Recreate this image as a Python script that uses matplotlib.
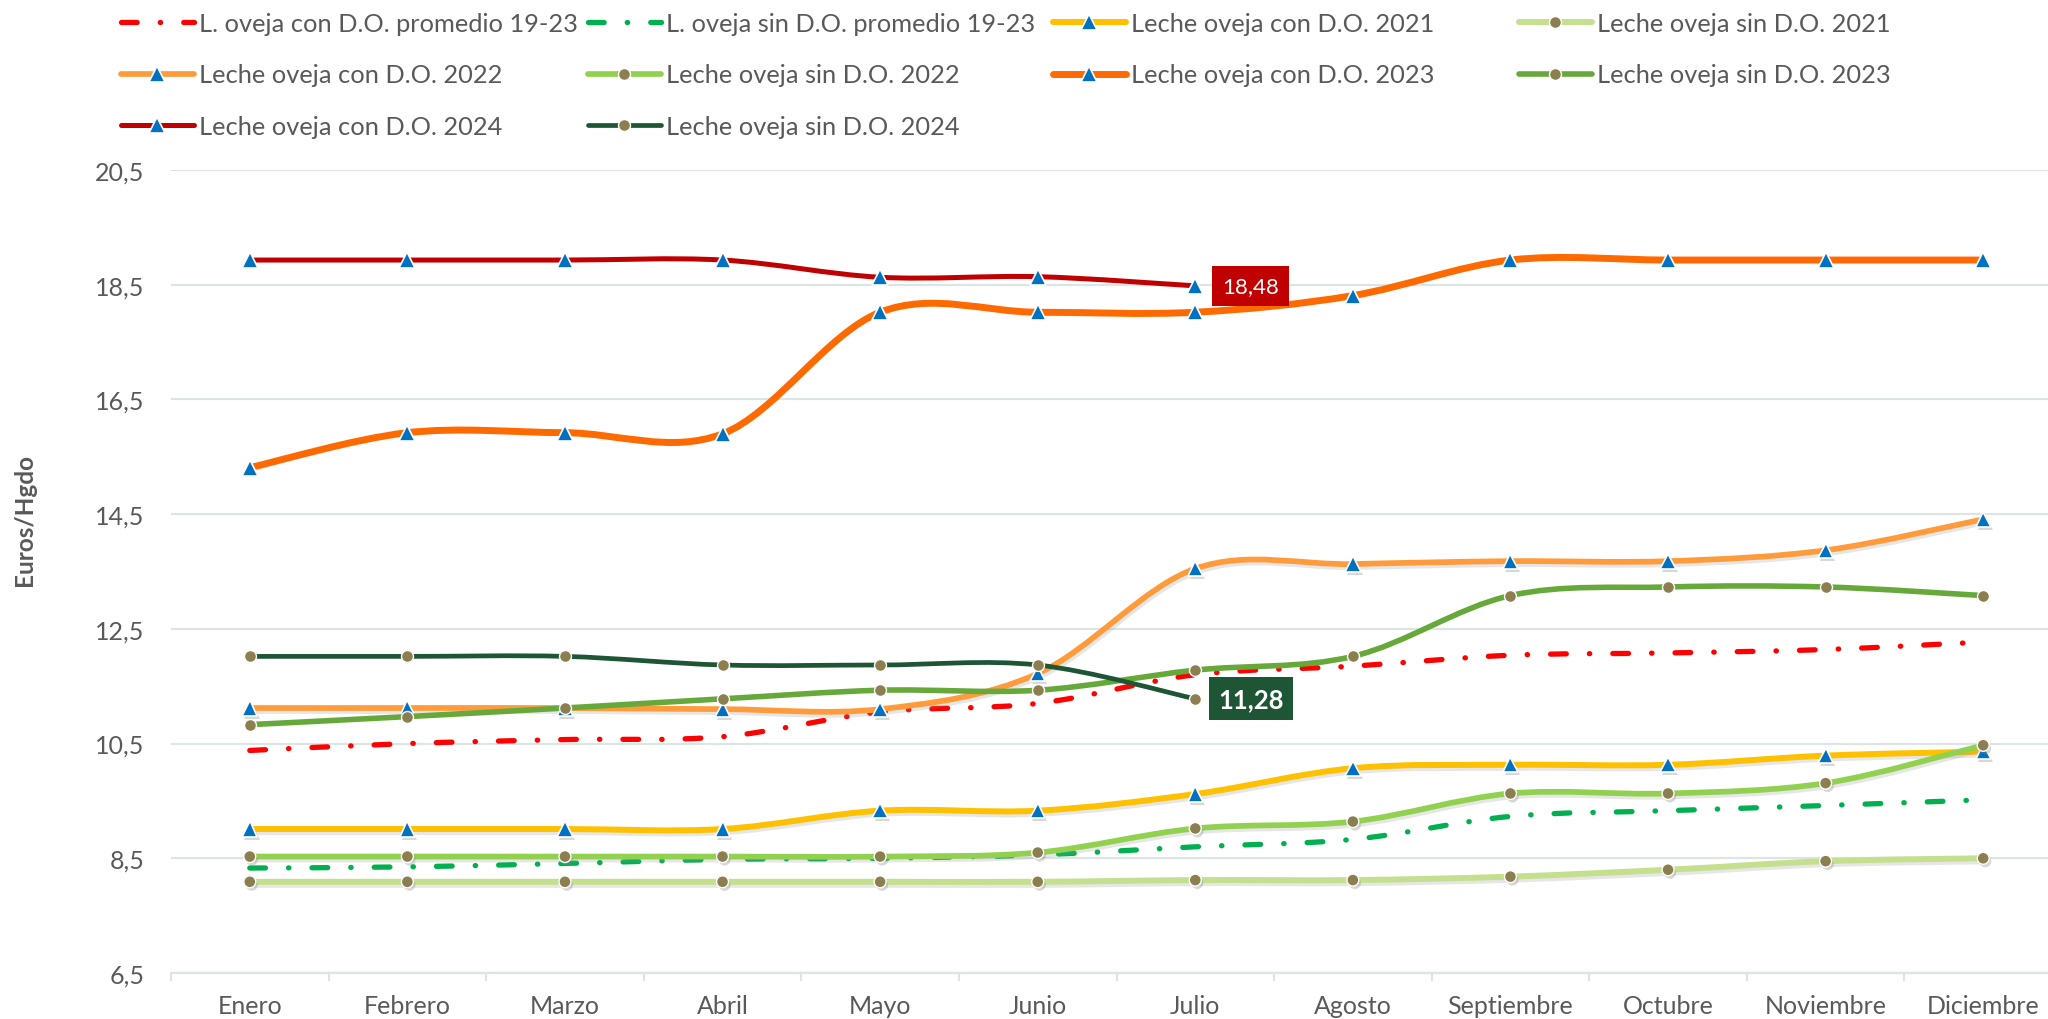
import numpy as np
import matplotlib
matplotlib.use('Agg')
import matplotlib.pyplot as plt
from matplotlib.path import Path
from matplotlib.patches import PathPatch
from matplotlib.lines import Line2D
import matplotlib.patheffects as pe

plt.rcParams['font.family'] = ['Lato', 'DejaVu Sans']
plt.rcParams['lines.scale_dashes'] = False

meses = ['Enero', 'Febrero', 'Marzo', 'Abril', 'Mayo', 'Junio', 'Julio',
         'Agosto', 'Septiembre', 'Octubre', 'Noviembre', 'Diciembre']

prom_con = [10.38, 10.50, 10.57, 10.62, 11.05, 11.20, 11.70, 11.85, 12.04, 12.08, 12.14, 12.27]
prom_sin = [8.33, 8.35, 8.41, 8.48, 8.50, 8.56, 8.70, 8.83, 9.23, 9.33, 9.42, 9.52]
con_2021 = [9.01, 9.01, 9.01, 9.01, 9.33, 9.33, 9.62, 10.07, 10.13, 10.13, 10.29, 10.36]
sin_2021 = [8.09, 8.09, 8.09, 8.09, 8.09, 8.09, 8.12, 8.12, 8.18, 8.30, 8.45, 8.50]
con_2022 = [11.12, 11.12, 11.12, 11.10, 11.10, 11.72, 13.55, 13.63, 13.68, 13.68, 13.87, 14.41]
sin_2022 = [8.53, 8.53, 8.53, 8.53, 8.53, 8.60, 9.02, 9.14, 9.63, 9.63, 9.81, 10.47]
con_2023 = [15.31, 15.92, 15.92, 15.90, 18.02, 18.02, 18.02, 18.31, 18.93, 18.93, 18.93, 18.93]
sin_2023 = [10.83, 10.97, 11.12, 11.28, 11.43, 11.43, 11.78, 12.02, 13.08, 13.23, 13.23, 13.08]
con_2024 = [18.93, 18.93, 18.93, 18.93, 18.63, 18.64, 18.48]
sin_2024 = [12.02, 12.02, 12.02, 11.87, 11.87, 11.87, 11.28]

yticks = [6.5, 8.5, 10.5, 12.5, 14.5, 16.5, 18.5, 20.5]

TXT = '#595959'
GRID = '#DDE4E4'
TRI = '#0070C0'
DOT = '#8B7E4F'

W, H = 2048, 1020
fig = plt.figure(figsize=(W / 100, H / 100), dpi=100)
ax = fig.add_axes([171 / W, 1 - 974 / H, (2062 - 171) / W, (974 - 171) / H])


def smooth_path(x, y):
    pts = np.column_stack([x, y]).astype(float)
    n = len(pts)
    verts = [pts[0]]
    codes = [Path.MOVETO]
    for i in range(n - 1):
        p0 = pts[i - 1] if i > 0 else pts[i]
        p1 = pts[i]
        p2 = pts[i + 1]
        p3 = pts[i + 2] if i + 2 < n else pts[i + 1]
        c1 = p1 + (p2 - p0) / 6.0
        c2 = p2 - (p3 - p1) / 6.0
        verts += [c1, c2, p2]
        codes += [Path.CURVE4] * 3
    return Path(verts, codes)


dashdot = (0, (11.3, 16.6, 0.3, 16.6))

series = [
    # label, data, color, lw, linestyle, marker, shadow
    ('L. oveja con D.O. promedio 19-23', prom_con, '#FF0000', 3.8, dashdot, None, False),
    ('L. oveja sin D.O. promedio 19-23', prom_sin, '#00B050', 3.8, dashdot, None, False),
    ('Leche oveja con D.O. 2021', con_2021, '#FFC000', 4.3, '-', '^', True),
    ('Leche oveja sin D.O. 2021', sin_2021, '#C4E08E', 4.3, '-', 'o', True),
    ('Leche oveja con D.O. 2022', con_2022, '#FF9B3B', 4.1, '-', '^', True),
    ('Leche oveja sin D.O. 2022', sin_2022, '#92D050', 4.1, '-', 'o', True),
    ('Leche oveja con D.O. 2023', con_2023, '#FF6A00', 5.0, '-', '^', False),
    ('Leche oveja sin D.O. 2023', sin_2023, '#66A83A', 4.0, '-', 'o', False),
    ('Leche oveja con D.O. 2024', con_2024, '#C00000', 3.6, '-', '^', False),
    ('Leche oveja sin D.O. 2024', sin_2024, '#1D5535', 3.4, '-', 'o', False),
]

handles = {}
for k, (lab, data, col, lw, ls, mk, shadow) in enumerate(series):
    x = np.arange(len(data))
    z = 3 + k
    patch = PathPatch(smooth_path(x, data), facecolor='none', edgecolor=col,
                      lw=lw, linestyle=ls, capstyle='round' if mk is None else 'butt',
                      joinstyle='round', zorder=z)
    if shadow:
        patch.set_path_effects([pe.SimpleLineShadow(offset=(1.2, -2.2), shadow_color='#909090', alpha=0.22),
                                pe.Normal()])
    ax.add_patch(patch)
    if mk == '^':
        mkw = dict(marker='^', ms=11, mfc=TRI, mec='white', mew=1.2)
    elif mk == 'o':
        mkw = dict(marker='o', ms=8.6, mfc=DOT, mec='white', mew=1.0)
    else:
        mkw = dict(marker=None)
    if mk is not None:
        ln, = ax.plot(x, data, ls='none', zorder=z + 0.5, **mkw)
        if shadow:
            ln.set_path_effects([pe.SimplePatchShadow(offset=(1.5, -2.2), shadow_rgbFace='#808080', alpha=0.3),
                                 pe.Normal()])
    handles[lab] = Line2D([], [], color=col, lw=lw, ls=ls,
                          solid_capstyle='round', dash_capstyle='round', **mkw)

# data labels
v24 = con_2024[-1]
ax.annotate(f'{v24:.2f}'.replace('.', ','), xy=(len(con_2024) - 1, v24), xytext=(40, 0),
            textcoords='offset points', ha='center', va='center', color='white', fontsize=16,
            bbox=dict(boxstyle='square,pad=0.45', fc='#C00000', ec='none'), zorder=20)
s24 = sin_2024[-1]
ax.annotate(f'{s24:.2f}'.replace('.', ','), xy=(len(sin_2024) - 1, s24), xytext=(40, 0),
            textcoords='offset points', ha='center', va='center', color='white', fontsize=18.5,
            fontweight='bold',
            bbox=dict(boxstyle='square,pad=0.37', fc='#1D5535', ec='none'), zorder=20)

# axes styling
ax.set_xlim(-0.5, 11.5)
ax.set_ylim(6.5, 20.5)
ax.set_yticks(yticks)
ax.set_yticklabels([f'{v:.1f}'.replace('.', ',') for v in yticks])
ax.set_xticks(range(12))
ax.set_xticklabels(meses)
ax.set_xticks(np.arange(-0.5, 12, 1), minor=True)
ax.tick_params(axis='x', which='major', length=0, pad=15, labelsize=18, labelcolor=TXT)
ax.tick_params(axis='x', which='minor', length=6, width=1.5, color=GRID)
ax.tick_params(axis='y', length=0, pad=19, labelsize=18, labelcolor=TXT)
ax.grid(axis='y', color=GRID, lw=1.6, zorder=0)
ax.set_axisbelow(True)
for s in ['left', 'right', 'top']:
    ax.spines[s].set_visible(False)
ax.spines['bottom'].set_color(GRID)
ax.spines['bottom'].set_linewidth(1.6)

fig.text(25 / W, 1 - 520 / H, 'Euros/Hgdo', rotation=90, ha='center', va='center',
         fontsize=17.5, fontweight='bold', color=TXT)

# legend: 4 columns laid out like the reference
cols = [
    ['L. oveja con D.O. promedio 19-23', 'Leche oveja con D.O. 2022', 'Leche oveja con D.O. 2024'],
    ['L. oveja sin D.O. promedio 19-23', 'Leche oveja sin D.O. 2022', 'Leche oveja sin D.O. 2024'],
    ['Leche oveja con D.O. 2021', 'Leche oveja con D.O. 2023'],
    ['Leche oveja sin D.O. 2021', 'Leche oveja sin D.O. 2023'],
]
xs = [121, 588, 1053, 1519]
for labs, x0 in zip(cols, xs):
    fig.legend(handles=[handles[l] for l in labs], labels=labs, loc='upper left',
               bbox_to_anchor=(x0 / W, 1 - 13 / H), frameon=False, borderpad=0,
               borderaxespad=0, handlelength=2.87, handletextpad=0.2, labelspacing=1.12,
               fontsize=18.3, labelcolor=TXT)

fig.savefig('out.png', dpi=100)
